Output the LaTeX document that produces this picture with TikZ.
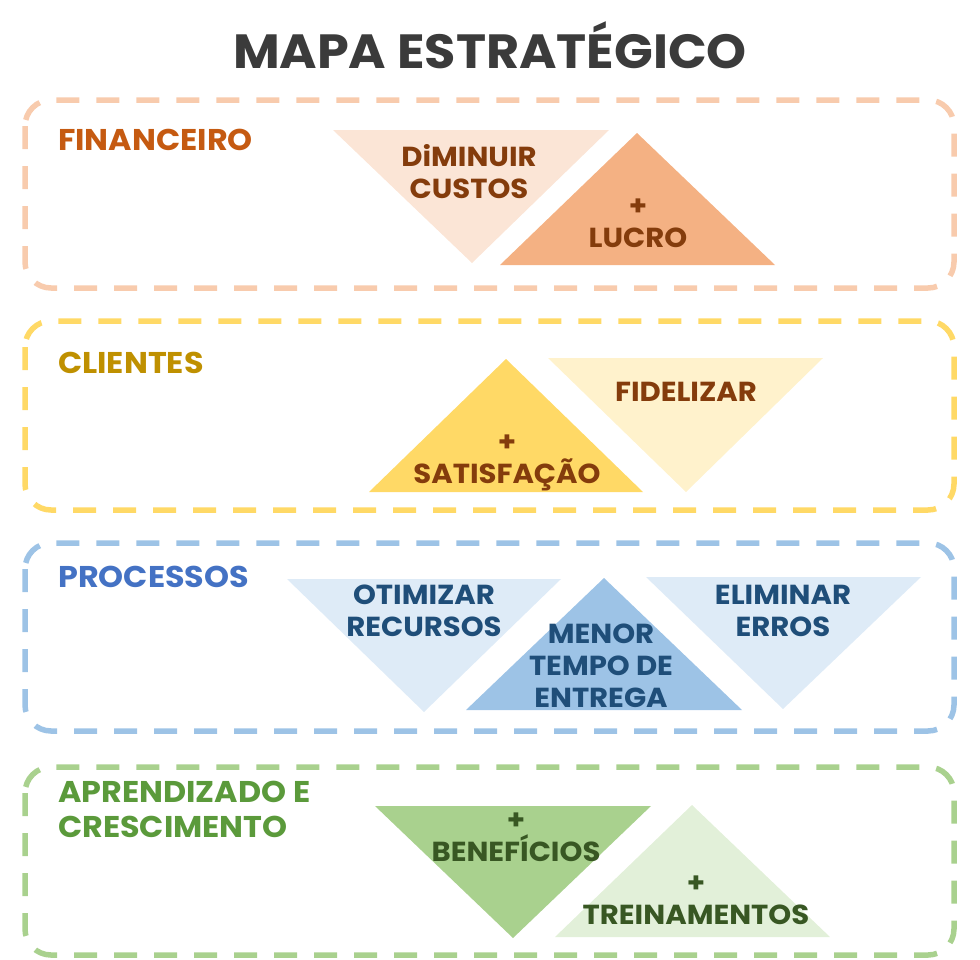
\documentclass[tikz,border=0pt]{standalone}
\usepackage{fontspec}
\setmainfont{Poppins}[FakeStretch=1.06]
\usepackage{tikz}

\definecolor{titulocor}{HTML}{3B3B3B}
\definecolor{finborda}{HTML}{F8CBAD}
\definecolor{fintexto}{HTML}{C55A11}
\definecolor{finclaro}{HTML}{FBE5D6}
\definecolor{finescuro}{HTML}{F4B183}
\definecolor{marrom}{HTML}{843C0C}
\definecolor{cliborda}{HTML}{FFD966}
\definecolor{clitexto}{HTML}{BF9000}
\definecolor{cliclaro}{HTML}{FFF2CC}
\definecolor{cliescuro}{HTML}{FFD966}
\definecolor{proborda}{HTML}{9DC3E6}
\definecolor{protexto}{HTML}{4472C4}
\definecolor{proclaro}{HTML}{DEEBF7}
\definecolor{proescuro}{HTML}{9DC3E6}
\definecolor{azulesc}{HTML}{1F4E79}
\definecolor{apborda}{HTML}{A9D18E}
\definecolor{aptexto}{HTML}{5B9A3B}
\definecolor{apclaro}{HTML}{E2F0D9}
\definecolor{apescuro}{HTML}{A9D18E}
\definecolor{verdeesc}{HTML}{385723}

\begin{document}
\begin{tikzpicture}[x=1pt,y=-1pt,
faixa/.style={dash pattern=on 23pt off 17pt,line width=5.5pt,rounded corners=26pt},
rotulo/.style={anchor=west,inner sep=0pt,align=left,font=\fontsize{30}{35}\selectfont\bfseries},
meta/.style={inner sep=0pt,align=center,font=\fontsize{27.5}{32}\selectfont\bfseries}]
\useasboundingbox (0,0) rectangle (980,959);
\node[inner sep=0pt,text=titulocor,font=\fontsize{48}{50}\selectfont\bfseries] (titulo) at (490,45) {MAPA ESTRATÉGICO};

% faixas
\draw[faixa,finborda] (25,100) rectangle (954,288);
\draw[faixa,cliborda] (25,321) rectangle (954,510);
\draw[faixa,proborda] (25,543) rectangle (954,731);
\draw[faixa,apborda] (25,767) rectangle (954,955);

\node[rotulo,text=fintexto] (fin) at (58,140) {FINANCEIRO};
\node[rotulo,text=clitexto] (cli) at (58,363) {CLIENTES};
\node[rotulo,text=protexto] (pro) at (58,577) {PROCESSOS};
\node[rotulo,text=aptexto] (ap) at (58,809) {APRENDIZADO E\\CRESCIMENTO};

% financeiro
\fill[finclaro] (333,130) -- (609,130) -- (472,263) -- cycle;
\fill[finescuro] (637,133) -- (775,265) -- (500,265) -- cycle;
\node[meta,text=marrom] (custos) at (469,172) {DiMINUIR\\CUSTOS};
\node[meta,text=marrom] (lucro) at (638,223) {+\\LUCRO};

% clientes
\fill[cliescuro] (506,359) -- (643,492) -- (369,492) -- cycle;
\fill[cliclaro] (548,358) -- (823,358) -- (686,492) -- cycle;
\node[meta,text=marrom] (satisf) at (507,463) {+\\SATISFAÇÃO};
\node[meta,text=marrom] (fidel) at (686,392) {FIDELIZAR};

% processos
\fill[proclaro] (287,579) -- (561,579) -- (424,712) -- cycle;
\fill[proescuro] (604,578) -- (742,710) -- (466,710) -- cycle;
\fill[proclaro] (646,577) -- (921,577) -- (783,709) -- cycle;
\node[meta,text=azulesc] (recursos) at (424,611) {OTIMIZAR\\RECURSOS};
\node[meta,text=azulesc] (entrega) at (601,666) {MENOR\\TEMPO DE\\ENTREGA};
\node[meta,text=azulesc] (erros) at (783,611) {ELIMINAR\\ERROS};

% aprendizado e crescimento
\fill[apescuro] (375,806) -- (651,806) -- (513,938) -- cycle;
\fill[apclaro] (692,805) -- (830,937) -- (555,937) -- cycle;
\node[meta,text=verdeesc] (benef) at (516,837) {+\\BENEFÍCIOS};
\node[meta,text=verdeesc] (trein) at (696,900) {+\\TREINAMENTOS};
\end{tikzpicture}
\end{document}
